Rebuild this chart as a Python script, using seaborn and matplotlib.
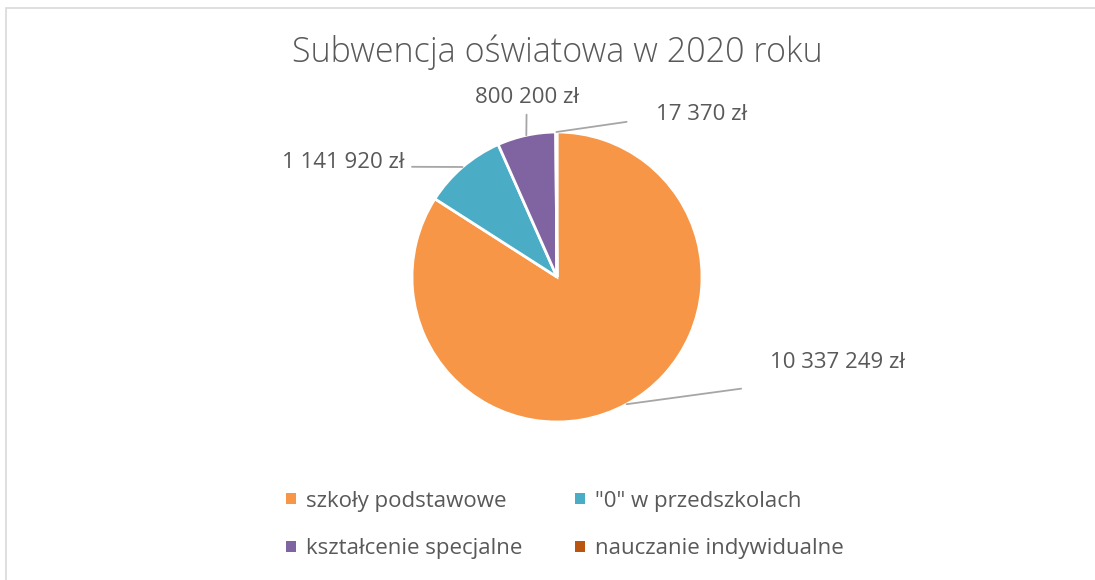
import numpy as np
import matplotlib
matplotlib.use("Agg")
import matplotlib.pyplot as plt
import seaborn as sns
from matplotlib.patches import Patch, Rectangle

# data
categories = ["szkoły podstawowe", "\"0\" w przedszkolach", "kształcenie specjalne", "nauczanie indywidualne"]
values = [10337249, 1141920, 800200, 17370]
colors = ["#F79646", "#4BACC6", "#8064A2", "#BA5510"]
title = "Subwencja oświatowa w 2020 roku"

# label placement (data units, pie radius = 1) and alignment
label_pos = [(1.47, -0.59), (-1.05, 0.79), (-0.21, 1.24), (0.68, 1.12)]
label_ha = ["left", "right", "center", "left"]

sns.set_theme(style="white")
plt.rcParams["font.family"] = ["Open Sans", "DejaVu Sans"]
text_col = "#595959"

def fmt(v):
    return f"{v:,}".replace(",", " ") + " zł"

fig = plt.figure(figsize=(10.95, 5.8), dpi=100)
fig.patches.append(Rectangle((6 / 1095, -0.1), 1.2, 1 - 8 / 580 + 0.1, transform=fig.transFigure,
                             fill=False, edgecolor="#D9D9D9", linewidth=1.2))

cx, cy, r = 557, 277, 145
ax = fig.add_axes([(cx - r) / 1095, (580 - cy - r) / 580, 2 * r / 1095, 2 * r / 580])
pal = sns.color_palette(colors)
wedges, _ = ax.pie(values, colors=pal, startangle=90, counterclock=False,
                   wedgeprops=dict(edgecolor="white", linewidth=2))
ax.set_xlim(-1, 1)
ax.set_ylim(-1, 1)
ax.set_aspect("equal")
ax.axis("off")

for w, v, (tx, ty), ha in zip(wedges, values, label_pos, label_ha):
    mid = np.deg2rad((w.theta1 + w.theta2) / 2)
    px, py = np.cos(mid), np.sin(mid)
    if ha == "left":
        ex, ey = tx - 0.2, ty - 0.18 if ty < 0 else ty - 0.05
    elif ha == "right":
        ex, ey = tx + 0.05, ty - 0.03
    else:
        ex, ey = tx, ty - 0.12
    ax.plot([px, ex], [py, ey], color="#A6A6A6", lw=1.3, clip_on=False)
    ax.text(tx, ty, fmt(v), ha=ha, va="center", fontsize=16, color=text_col,
            clip_on=False)

fig.text(cx / 1095, 1 - 52 / 580, title, ha="center", va="center", fontsize=24.5,
         color=text_col, fontweight="light")

handles = [Patch(facecolor=c, edgecolor="none") for c in colors]
order = [0, 2, 1, 3]
fig.legend([handles[i] for i in order], [categories[i] for i in order],
           loc="center", bbox_to_anchor=(565 / 1095, 1 - 525 / 580), ncol=2,
           frameon=False, fontsize=16, labelcolor=text_col, handlelength=0.42,
           handleheight=0.42, handletextpad=0.45, labelspacing=1.2, columnspacing=2.4)

fig.savefig("out.png", dpi=100)
